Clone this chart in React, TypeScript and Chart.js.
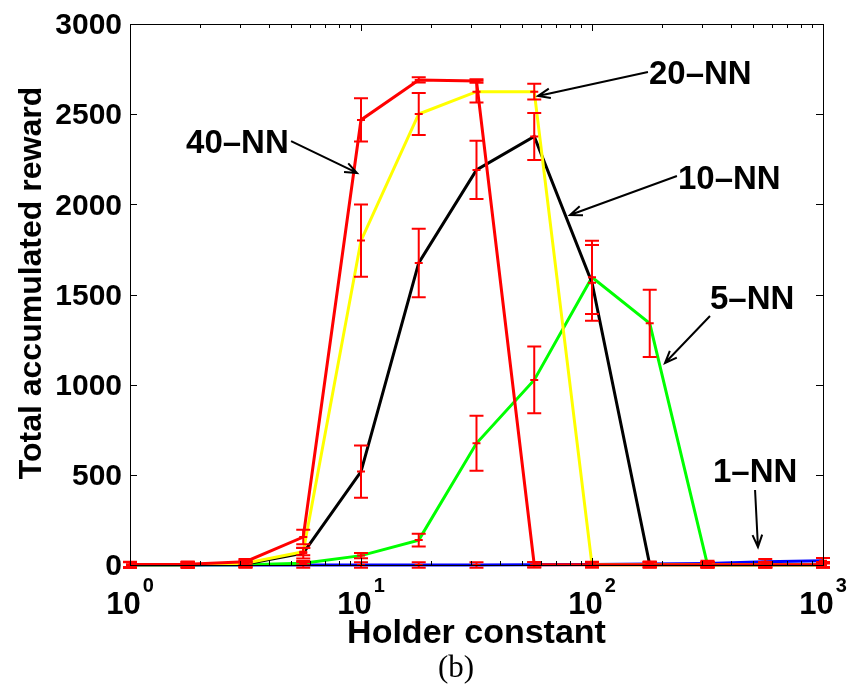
import React, { useEffect, useRef } from "react";
import { Chart, registerables } from "chart.js";
Chart.register(...registerables);

// Holder constant values (x, log scale)
const holderValues = [1, 1.778, 3.162, 5.623, 10, 17.78, 31.62, 56.23, 100, 177.8, 316.2, 562.3, 1000];

// Series means
const nn40 = [3, 4, 18, 155, 2468, 2690, 2684, 2, 2, 2, 2, 2, 2];
const nn20 = [1, 1, 10, 74, 1799, 2501, 2625, 2625, 1, 1, 1, 1, 1];
const nn10 = [1, 1, 5, 66, 518, 1675, 2191, 2376, 1565, 1, 1, 1, 1];
const nn5 = [1, 1, 2, 10, 52, 138, 675, 1026, 1595, 1340, 1, 1, 1];
const nn1 = [0, 0, 0, 0, 0, 0, 0, 1, 3, 5, 9, 18, 24];

// Error (half-width) arrays
const err40 = [15, 15, 15, 40, 120, 15, 10, 15, 15, 15, 15, 15, 15];
const err20 = [15, 15, 15, 20, 200, 116, 60, 43, 15, 15, 15, 15, 15];
const err10 = [15, 15, 15, 30, 145, 190, 162, 130, 210, 15, 15, 15, 15];
const err5 = [15, 15, 15, 12, 15, 35, 152, 185, 203, 187, 15, 15, 15];
const err1 = [15, 15, 15, 15, 15, 15, 15, 15, 15, 15, 15, 15, 15];

const yTicks = [0, 500, 1000, 1500, 2000, 2500, 3000];
const xMajorTicks = [1, 10, 100, 1000];
const xMajorExponents = ["0", "1", "2", "3"];

// Annotations in data coordinates
const labelTexts = ["40\u2013NN", "20\u2013NN", "10\u2013NN", "5\u2013NN", "1\u2013NN"];
const labelX = [1.748, 176.4, 235.6, 324.2, 334];
const labelY = [2285, 2667, 2085, 1420, 460];
const arrowFromX = [4.98, 174.7, 233.2, 324.2, 508];
const arrowFromY = [2351, 2734, 2157, 1381, 416];
const arrowToX = [9.61, 58.4, 80.3, 207, 523];
const arrowToY = [2174, 2601, 1941, 1120, 100];

const seriesList = [
  { label: "40-NN", data: nn40, err: err40, color: "#ff0000" },
  { label: "20-NN", data: nn20, err: err20, color: "#ffff00" },
  { label: "10-NN", data: nn10, err: err10, color: "#000000" },
  { label: "5-NN", data: nn5, err: err5, color: "#00ff00" },
  { label: "1-NN", data: nn1, err: err1, color: "#0000ff" },
];

const SANS = '"Liberation Sans", Arial, Helvetica, sans-serif';

const decorPlugin = {
  id: "decor",
  afterDatasetsDraw(chart: any) {
    const ctx = chart.ctx;
    const xs = chart.scales.x;
    const ys = chart.scales.y;
    ctx.save();
    ctx.strokeStyle = "#ff0000";
    ctx.lineWidth = 2;
    const cap = 7;
    for (let s = seriesList.length - 1; s >= 0; s--) {
      const ser = seriesList[s];
      for (let j = 0; j < holderValues.length; j++) {
        const px = xs.getPixelForValue(holderValues[j]);
        const v = ser.data[j];
        const e = ser.err[j];
        const yt = ys.getPixelForValue(v + e);
        const yb = ys.getPixelForValue(v - e);
        const yc = ys.getPixelForValue(v);
        ctx.beginPath();
        ctx.moveTo(px, yt);
        ctx.lineTo(px, yb);
        ctx.moveTo(px - cap, yt);
        ctx.lineTo(px + cap, yt);
        ctx.moveTo(px - cap, yb);
        ctx.lineTo(px + cap, yb);
        ctx.moveTo(px - 4, yc);
        ctx.lineTo(px + 4, yc);
        ctx.stroke();
      }
    }
    ctx.restore();
  },
  afterDraw(chart: any) {
    const ctx = chart.ctx;
    const xs = chart.scales.x;
    const ys = chart.scales.y;
    const a = chart.chartArea;
    ctx.save();
    // frame
    ctx.strokeStyle = "#000";
    ctx.lineWidth = 1;
    ctx.strokeRect(Math.round(a.left) + 0.5, Math.round(a.top) + 0.5, Math.round(a.right - a.left), Math.round(a.bottom - a.top));
    // y ticks
    ctx.beginPath();
    for (const t of yTicks) {
      const y = Math.round(ys.getPixelForValue(t)) + 0.5;
      ctx.moveTo(a.left, y);
      ctx.lineTo(a.left + 7, y);
      ctx.moveTo(a.right, y);
      ctx.lineTo(a.right - 7, y);
    }
    // x ticks major and minor
    for (let d = 0; d < xMajorTicks.length; d++) {
      const base = xMajorTicks[d];
      const xm = Math.round(xs.getPixelForValue(base)) + 0.5;
      ctx.moveTo(xm, a.bottom);
      ctx.lineTo(xm, a.bottom - 7);
      ctx.moveTo(xm, a.top);
      ctx.lineTo(xm, a.top + 7);
      if (d < xMajorTicks.length - 1) {
        for (let m = 2; m <= 9; m++) {
          const x = Math.round(xs.getPixelForValue(base * m)) + 0.5;
          ctx.moveTo(x, a.bottom);
          ctx.lineTo(x, a.bottom - 4);
          ctx.moveTo(x, a.top);
          ctx.lineTo(x, a.top + 4);
        }
      }
    }
    ctx.stroke();

    // y tick labels
    ctx.fillStyle = "#000";
    ctx.font = `bold 30px ${SANS}`;
    ctx.textAlign = "right";
    ctx.textBaseline = "middle";
    for (const t of yTicks) {
      ctx.fillText(String(t), a.left - 8, ys.getPixelForValue(t) + 2);
    }
    // x tick labels 10^k
    for (let d = 0; d < xMajorTicks.length; d++) {
      const xm = xs.getPixelForValue(xMajorTicks[d]);
      ctx.font = `bold 31px ${SANS}`;
      const w1 = ctx.measureText("10").width;
      ctx.font = `bold 20px ${SANS}`;
      const w2 = ctx.measureText(xMajorExponents[d]).width;
      const start = xm - (w1 + w2 + 2) / 2;
      ctx.textAlign = "left";
      ctx.textBaseline = "alphabetic";
      ctx.font = `bold 31px ${SANS}`;
      ctx.fillText("10", start, 614);
      ctx.font = `bold 20px ${SANS}`;
      ctx.fillText(xMajorExponents[d], start + w1 + 2, 592);
    }
    // x title
    ctx.font = `bold 34px ${SANS}`;
    ctx.textAlign = "center";
    ctx.fillText("Holder constant", (a.left + a.right) / 2, 643);
    // (b)
    ctx.font = `31px "Liberation Serif", "DejaVu Serif", serif`;
    ctx.fillText("(b)", 456, 677);
    // y title
    ctx.save();
    ctx.translate(41, 283);
    ctx.rotate(-Math.PI / 2);
    ctx.font = `bold 32px ${SANS}`;
    ctx.textAlign = "center";
    ctx.textBaseline = "alphabetic";
    ctx.fillText("Total accumulated reward", 0, 0);
    ctx.restore();

    // annotations
    ctx.font = `bold 33px ${SANS}`;
    ctx.textAlign = "left";
    ctx.textBaseline = "alphabetic";
    for (let i = 0; i < labelTexts.length; i++) {
      ctx.fillText(labelTexts[i], xs.getPixelForValue(labelX[i]), ys.getPixelForValue(labelY[i]));
    }
    ctx.strokeStyle = "#000";
    ctx.lineWidth = 2;
    for (let i = 0; i < labelTexts.length; i++) {
      const x0 = xs.getPixelForValue(arrowFromX[i]);
      const y0 = ys.getPixelForValue(arrowFromY[i]);
      const x1 = xs.getPixelForValue(arrowToX[i]);
      const y1 = ys.getPixelForValue(arrowToY[i]);
      const ang = Math.atan2(y1 - y0, x1 - x0);
      const L = 13;
      const spread = 0.38;
      ctx.beginPath();
      ctx.moveTo(x0, y0);
      ctx.lineTo(x1, y1);
      ctx.moveTo(x1 - L * Math.cos(ang - spread), y1 - L * Math.sin(ang - spread));
      ctx.lineTo(x1, y1);
      ctx.lineTo(x1 - L * Math.cos(ang + spread), y1 - L * Math.sin(ang + spread));
      ctx.stroke();
    }
    ctx.restore();
  },
};

export default function App() {
  const ref = useRef<HTMLCanvasElement>(null);
  useEffect(() => {
    if (!ref.current) return;
    const chart = new Chart(ref.current, {
      type: "line",
      data: {
        datasets: seriesList.map((s) => ({
          label: s.label,
          data: holderValues.map((x, i) => ({ x, y: s.data[i] })),
          borderColor: s.color,
          backgroundColor: s.color,
          borderWidth: 3,
          pointRadius: 0,
          tension: 0,
          fill: false,
          clip: false,
        })),
      },
      options: {
        responsive: false,
        animation: false,
        devicePixelRatio: 1,
        layout: { padding: { left: 130, right: 29, top: 24, bottom: 121 } },
        plugins: { legend: { display: false }, tooltip: { enabled: false } },
        scales: {
          x: { type: "logarithmic", min: 1, max: 1000, display: false },
          y: { type: "linear", min: 0, max: 3000, display: false },
        },
      },
      plugins: [decorPlugin],
    });
    return () => chart.destroy();
  }, []);
  return (
    <div style={{ position: "fixed", left: 0, top: 0, width: 852, height: 686, background: "#fff" }}>
      <canvas ref={ref} width={852} height={686} style={{ width: 852, height: 686, display: "block" }} />
    </div>
  );
}
